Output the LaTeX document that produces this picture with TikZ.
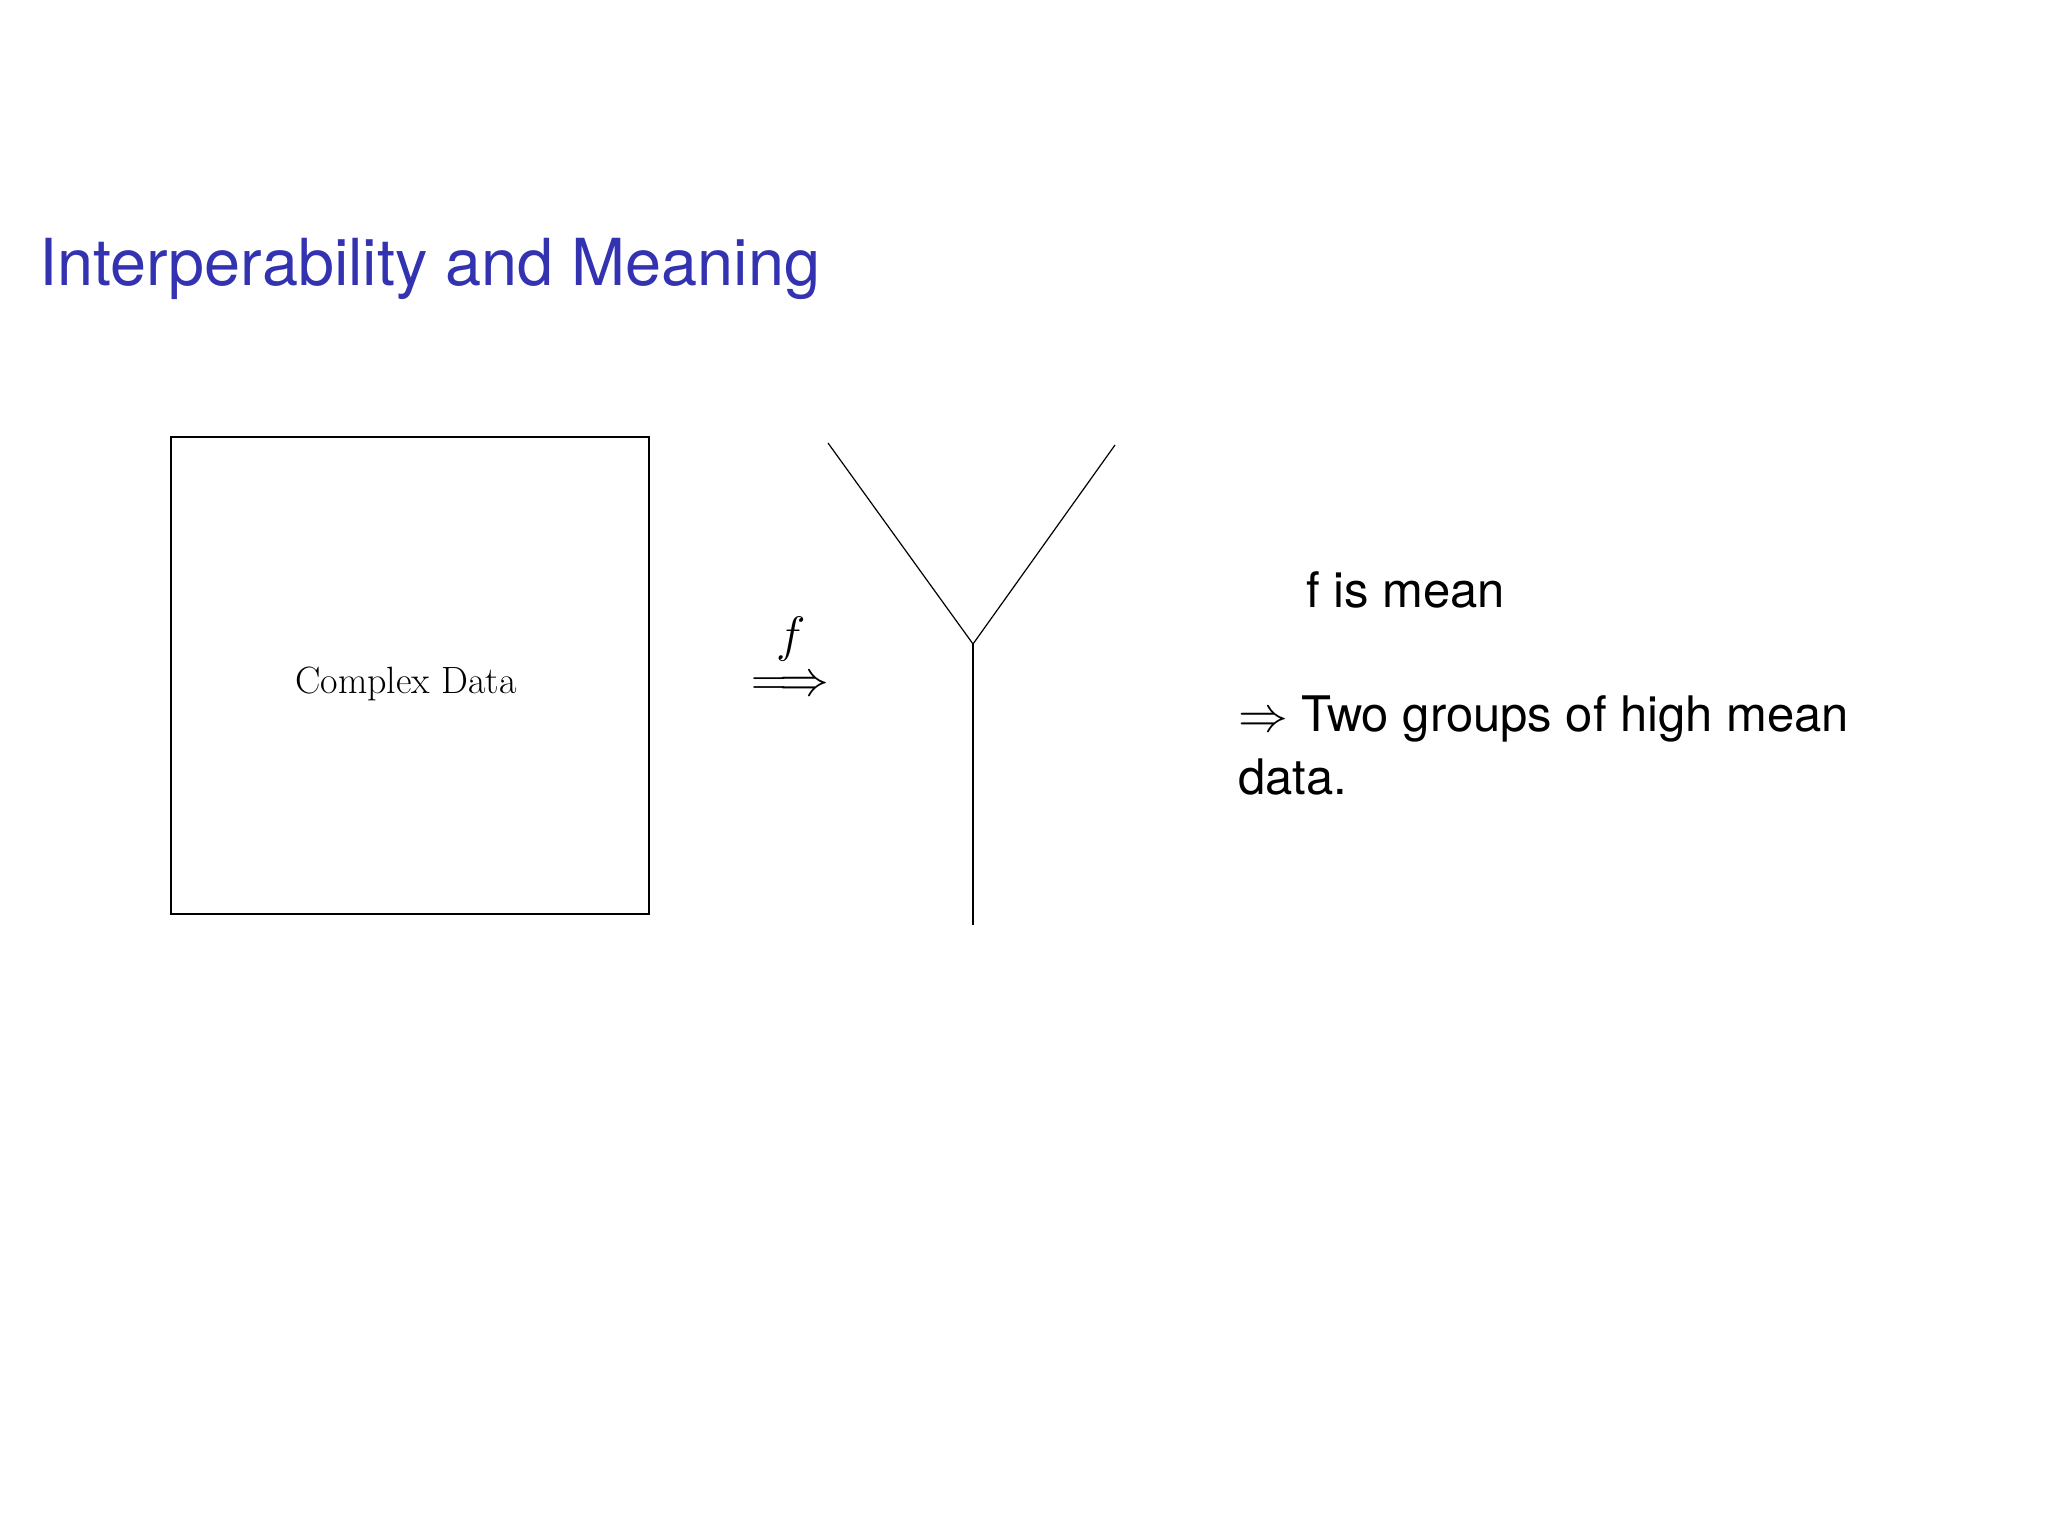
\documentclass[tikz,border=0pt]{standalone}
\usepackage{fontspec}
\setsansfont{TeX Gyre Heros}
\definecolor{beamerblue}{rgb}{0.2,0.2,0.7}
\tikzset{
  databox/.style={draw, line width=0.6pt, minimum width=239pt, minimum height=238.5pt, inner sep=0pt},
  sanstext/.style={anchor=base west, inner sep=0pt, font=\sffamily\fontsize{24.5}{29}\selectfont},
  treeline/.style={line width=0.6pt}
}
\begin{document}
\begin{tikzpicture}[x=0.5pt,y=-0.5pt]
\useasboundingbox[fill=white] (0,0) rectangle (2048,1536);
\node[anchor=base west, inner sep=0pt, text=beamerblue, font=\sffamily\fontsize{32.4}{38}\selectfont] (title) at (39,285) {Interperability and Meaning};
\node[databox] (box) at (410,675.5) {};
\node[anchor=base, inner sep=0pt, font=\fontsize{19}{23}\selectfont] (label) at (406,693) {Complex Data};
\node[anchor=base, inner sep=0pt, font=\fontsize{26}{30}\selectfont] (fsym) at (791,651) {$f$};
\node[inner sep=0pt, font=\fontsize{23.3}{28}\selectfont] (arrow) at (790.5,686) {$\Longrightarrow$};
\coordinate (lt) at (828,443);
\coordinate (rt) at (1115,445);
\coordinate (j) at (973,644);
\coordinate (bt) at (973,925);
\draw[treeline] (lt) -- (j) -- (rt);
\draw[treeline] (j) -- (bt);
\node[sanstext] (fmean) at (1306,607) {f is mean};
\node[sanstext] (two) at (1238,731) {$\Rightarrow$ Two groups of high mean};
\node[sanstext] (data) at (1238,794) {data.};
\end{tikzpicture}
\end{document}
